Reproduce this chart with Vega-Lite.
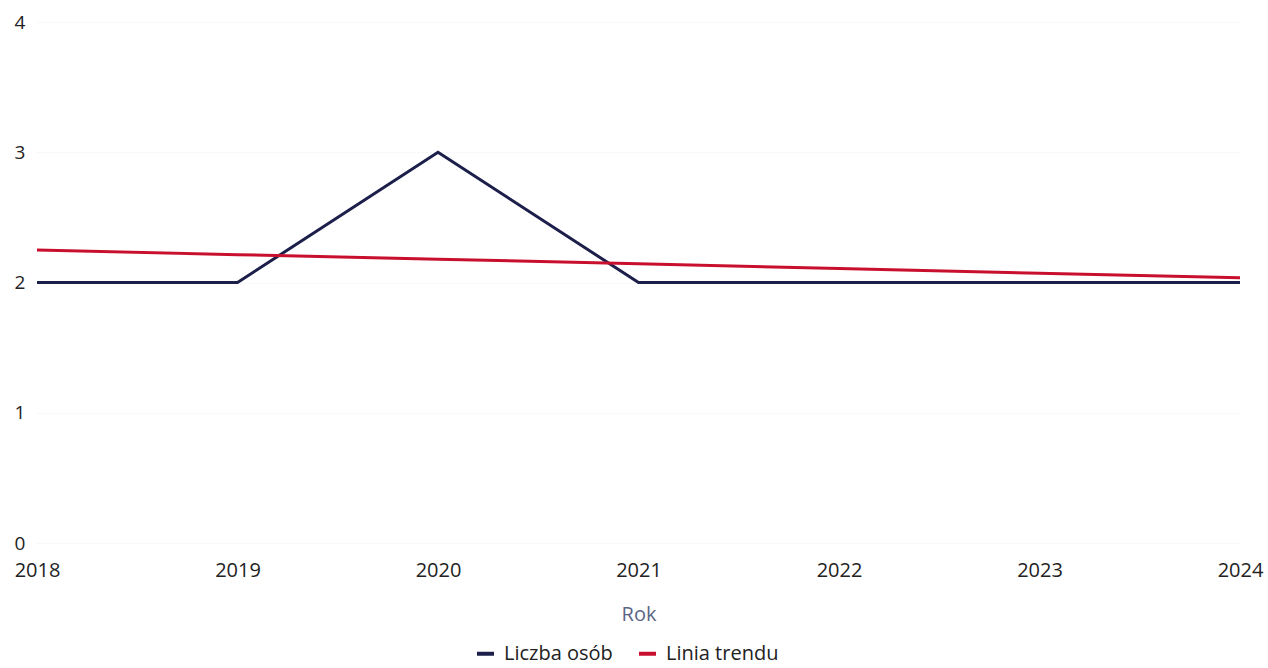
{
  "$schema": "https://vega.github.io/schema/vega-lite/v6.json",
  "width": 1203,
  "height": 521,
  "autosize": {"type": "none"},
  "padding": {"left": 37, "top": 22, "right": 28, "bottom": 125},
  "background": "#ffffff",
  "config": {
    "font": "Open Sans",
    "view": {"stroke": null},
    "axis": {"labelFont": "Open Sans", "titleFont": "Open Sans"}
  },
  "data": {
    "values": [
      {"rok": 2018, "wartosc": 2, "seria": "Liczba osób"},
      {"rok": 2019, "wartosc": 2, "seria": "Liczba osób"},
      {"rok": 2020, "wartosc": 3, "seria": "Liczba osób"},
      {"rok": 2021, "wartosc": 2, "seria": "Liczba osób"},
      {"rok": 2022, "wartosc": 2, "seria": "Liczba osób"},
      {"rok": 2023, "wartosc": 2, "seria": "Liczba osób"},
      {"rok": 2024, "wartosc": 2, "seria": "Liczba osób"},
      {"rok": 2018, "wartosc": 2.25, "seria": "Linia trendu"},
      {"rok": 2019, "wartosc": 2.214, "seria": "Linia trendu"},
      {"rok": 2020, "wartosc": 2.179, "seria": "Linia trendu"},
      {"rok": 2021, "wartosc": 2.143, "seria": "Linia trendu"},
      {"rok": 2022, "wartosc": 2.107, "seria": "Linia trendu"},
      {"rok": 2023, "wartosc": 2.071, "seria": "Linia trendu"},
      {"rok": 2024, "wartosc": 2.036, "seria": "Linia trendu"}
    ]
  },
  "mark": {"type": "line", "strokeWidth": 3},
  "encoding": {
    "x": {
      "field": "rok",
      "type": "quantitative",
      "scale": {"domain": [2018, 2024], "nice": false, "zero": false},
      "axis": {
        "title": "Rok",
        "titleColor": "#5b6685",
        "titleFontSize": 20,
        "titleFontWeight": "normal",
        "titlePadding": 24,
        "values": [2018, 2019, 2020, 2021, 2022, 2023, 2024],
        "format": "d",
        "labelFontSize": 20,
        "labelColor": "#222222",
        "labelPadding": 17,
        "labelFlush": false,
        "labelOverlap": false,
        "ticks": false,
        "domain": false,
        "grid": false
      }
    },
    "y": {
      "field": "wartosc",
      "type": "quantitative",
      "scale": {"domain": [0, 4], "nice": false},
      "axis": {
        "title": null,
        "values": [0, 1, 2, 3, 4],
        "labelFontSize": 19,
        "labelColor": "#222222",
        "labelAlign": "left",
        "labelPadding": 23,
        "ticks": false,
        "domain": false,
        "grid": true,
        "gridColor": "#f3f3f3",
        "gridWidth": 1,
        "gridDash": [2, 2]
      }
    },
    "color": {
      "field": "seria",
      "type": "nominal",
      "scale": {"domain": ["Liczba osób", "Linia trendu"], "range": ["#1c1f4a", "#c8102e"]},
      "legend": {
        "title": null,
        "orient": "none",
        "legendX": 438,
        "legendY": 621,
        "direction": "horizontal",
        "symbolType": "stroke",
        "symbolStrokeWidth": 4,
        "symbolSize": 289,
        "labelFontSize": 20,
        "labelOffset": 8,
        "labelColor": "#222222",
        "columnPadding": 18
      }
    }
  }
}
